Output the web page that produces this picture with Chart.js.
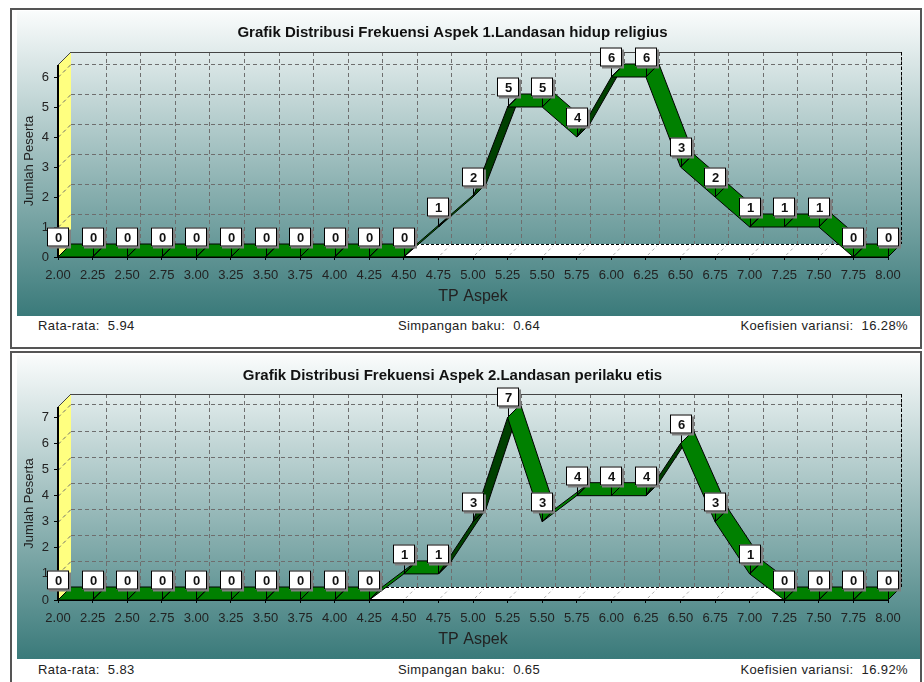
<!DOCTYPE html>
<html>
<head>
<meta charset="utf-8">
<script src="https://cdn.jsdelivr.net/npm/chart.js@4.4.0/dist/chart.umd.min.js"></script>
<style>
body{margin:0;background:#fff;width:924px;height:682px;overflow:hidden;font-family:"Liberation Sans",Arial,sans-serif;}
.panel{position:absolute;left:10px;width:908px;border:2px solid #555;background:#fff;}
.bg{position:absolute;left:5px;width:903px;background:linear-gradient(#fafcfc,#3a7a7a);}
.foot{position:absolute;font-size:13px;letter-spacing:0.4px;color:#222;white-space:pre;line-height:14px;}
</style>
</head>
<body>

<div class="panel" style="top:8px;height:337px;">
  <div class="bg" style="top:1px;height:305px;"><canvas id="grafik1"></canvas></div>
  <div class="foot" id="f1a" style="left:26px;top:309px;"></div>
  <div class="foot" id="f1b" style="left:386px;top:309px;"></div>
  <div class="foot" id="f1c" style="right:12px;top:309px;"></div>
</div>

<div class="panel" style="top:351px;height:340px;">
  <div class="bg" style="top:2px;height:304px;"><canvas id="grafik2"></canvas></div>
  <div class="foot" id="f2a" style="left:26px;top:310px;"></div>
  <div class="foot" id="f2b" style="left:386px;top:310px;"></div>
  <div class="foot" id="f2c" style="right:12px;top:310px;"></div>
</div>

<script>
// data dari tabel distribusi frekuensi
var labelsTP = ['2.00','2.25','2.50','2.75','3.00','3.25','3.50','3.75','4.00','4.25','4.50','4.75',
  '5.00','5.25','5.50','5.75','6.00','6.25','6.50','6.75','7.00','7.25','7.50','7.75','8.00'];

var judul1 = 'Grafik Distribusi Frekuensi Aspek 1.Landasan hidup religius';
var aspek1 = [0,0,0,0,0,0,0,0,0,0,0,1,2,5,5,4,6,6,3,2,1,1,1,0,0];
var yMax1 = 6.4;
var footer1 = ['Rata-rata:  5.94','Simpangan baku:  0.64','Koefisien variansi:  16.28%'];

var judul2 = 'Grafik Distribusi Frekuensi Aspek 2.Landasan perilaku etis';
var aspek2 = [0,0,0,0,0,0,0,0,0,0,1,1,3,7,3,4,4,4,6,3,1,0,0,0,0];
var yMax2 = 7.4;
var footer2 = ['Rata-rata:  5.83','Simpangan baku:  0.65','Koefisien variansi:  16.92%'];

var DEPTH = 13;
var FONT = '"Liberation Sans", Arial, sans-serif';

function garis(ctx,x1,y1,x2,y2){
  ctx.beginPath();ctx.moveTo(x1,y1);ctx.lineTo(x2,y2);ctx.stroke();
}

// efek 3D: dinding kiri, lantai, grid belakang, pita garis
var tigaD = {
  id:'tigaD',
  beforeDatasetsDraw: function(chart){
    var ctx = chart.ctx, a = chart.chartArea, d = DEPTH;
    var sx = chart.scales.x, sy = chart.scales.y;
    var L = a.left, R = a.right, T = a.top, B = a.bottom;
    ctx.save();
    // dinding kiri kuning
    ctx.fillStyle = '#ffff80';
    ctx.beginPath();
    ctx.moveTo(L,B);ctx.lineTo(L,T);ctx.lineTo(L+d,T-d);ctx.lineTo(L+d,B-d);ctx.closePath();
    ctx.fill();
    // lantai putih
    ctx.fillStyle = '#ffffff';
    ctx.beginPath();
    ctx.moveTo(L,B);ctx.lineTo(R,B);ctx.lineTo(R+d,B-d);ctx.lineTo(L+d,B-d);ctx.closePath();
    ctx.fill();
    // grid putus-putus
    ctx.lineWidth = 1;
    ctx.strokeStyle = '#6e6e6e';
    ctx.setLineDash([4,3]);
    sy.ticks.forEach(function(t){
      if(t.value <= 0) return;
      var py = Math.round(sy.getPixelForValue(t.value)) + 0.5;
      garis(ctx,L+d,py-d,R+d,py-d);
      garis(ctx,L,py,L+d,py-d);
    });
    sx.ticks.forEach(function(t,i){
      if(i === 0) return;
      var px = Math.round(sx.getPixelForTick(i)) + 0.5;
      garis(ctx,px+d,T-d,px+d,B-d);
    });
    ctx.strokeStyle = '#b0b0b0';
    ctx.setLineDash([3,3]);
    sx.ticks.forEach(function(t,i){
      var px = sx.getPixelForTick(i);
      garis(ctx,px+2,B-2,px+d-2,B-d+2);
    });
    // tepi belakang
    ctx.strokeStyle = '#000';
    ctx.setLineDash([3,2]);
    garis(ctx,L+d,B-d+0.5,R+d,B-d+0.5);
    garis(ctx,R+d+0.5,T-d,R+d+0.5,B-d);
    ctx.setLineDash([]);
    ctx.strokeStyle = '#444';
    garis(ctx,L+d,T-d+0.5,R+d,T-d+0.5);
    garis(ctx,L,T,L+d,T-d);
    // sumbu depan
    ctx.strokeStyle = '#000';
    ctx.lineWidth = 2;
    garis(ctx,L,T,L,B+1);
    garis(ctx,L,B,R,B);
    // pita hijau
    var pts = chart.getDatasetMeta(0).data;
    ctx.lineWidth = 1;
    ctx.lineJoin = 'round';
    for(var i=0;i<pts.length-1;i++){
      var p = pts[i], q = pts[i+1];
      var dx = q.x-p.x, dy = q.y-p.y;
      var naik = (dx+dy) < 0;
      ctx.fillStyle = naik ? '#004000' : '#008000';
      ctx.strokeStyle = '#000';
      ctx.beginPath();
      ctx.moveTo(p.x,p.y);ctx.lineTo(q.x,q.y);ctx.lineTo(q.x+d,q.y-d);ctx.lineTo(p.x+d,p.y-d);ctx.closePath();
      ctx.fill();ctx.stroke();
    }
    pts.forEach(function(p){ garis(ctx,p.x,p.y,p.x+d,p.y-d); });
    ctx.restore();
  },
  afterDatasetsDraw: function(chart){
    var ctx = chart.ctx;
    var pts = chart.getDatasetMeta(0).data;
    var nilai = chart.data.datasets[0].data;
    ctx.save();
    ctx.font = 'bold 13px ' + FONT;
    ctx.textAlign = 'center';
    ctx.textBaseline = 'middle';
    pts.forEach(function(p,i){
      var w = 22, h = 19;
      var cx = Math.round(p.x), cy = Math.round(p.y - 20);
      var bx = cx - w/2, by = cy - h/2;
      ctx.strokeStyle = '#000';ctx.lineWidth = 1;
      garis(ctx,cx+0.5,p.y,cx+0.5,by+h);
      ctx.fillStyle = '#808080';
      ctx.fillRect(bx+2,by+2,w,h);
      ctx.fillStyle = '#fff';
      ctx.fillRect(bx,by,w,h);
      ctx.strokeRect(bx+0.5,by+0.5,w-1,h-1);
      ctx.fillStyle = '#111';
      ctx.fillText(String(nilai[i]),cx+0.5,cy+1);
    });
    ctx.restore();
  }
};

function buatGrafik(id, judul, nilai, yMax, padTop, padBottom){
  return new Chart(document.getElementById(id), {
    type:'line',
    data:{
      labels: labelsTP,
      datasets:[{data:nilai, showLine:false, pointRadius:0, pointHoverRadius:0}]
    },
    options:{
      responsive:true, maintainAspectRatio:false, animation:false, events:[],
      layout:{padding:{left:0,right:32,top:0,bottom:0}},
      plugins:{
        legend:{display:false},
        tooltip:{enabled:false},
        title:{display:true,text:judul,color:'#111',
          font:{family:FONT,size:15,weight:'bold'},
          padding:{top:padTop,bottom:padBottom}}
      },
      scales:{
        x:{
          offset:false,
          grid:{drawOnChartArea:false,drawTicks:true,tickLength:3,color:'#000'},
          border:{display:false},
          ticks:{autoSkip:false,maxRotation:0,padding:8,color:'#222',
            font:{family:FONT,size:13}},
          title:{display:true,text:'TP Aspek',color:'#222',
            font:{family:FONT,size:16},padding:{top:0,bottom:10}},
          afterFit:function(s){ s.height = 59; }
        },
        y:{
          min:0, max:yMax,
          grid:{drawOnChartArea:false,drawTicks:true,tickLength:4,color:'#000'},
          border:{display:false},
          ticks:{stepSize:1,includeBounds:false,padding:5,color:'#222',
            font:{family:FONT,size:13}},
          title:{display:true,text:'Jumlah Peserta',color:'#222',
            font:{family:FONT,size:13},padding:{top:5,bottom:0}},
          afterFit:function(s){ s.width = 41; }
        }
      }
    },
    plugins:[tigaD]
  });
}

buatGrafik('grafik1', judul1, aspek1, yMax1, 13, 23);
buatGrafik('grafik2', judul2, aspek2, yMax2, 12, 22);

document.getElementById('f1a').textContent = footer1[0];
document.getElementById('f1b').textContent = footer1[1];
document.getElementById('f1c').textContent = footer1[2];
document.getElementById('f2a').textContent = footer2[0];
document.getElementById('f2b').textContent = footer2[1];
document.getElementById('f2c').textContent = footer2[2];
</script>
</body>
</html>
